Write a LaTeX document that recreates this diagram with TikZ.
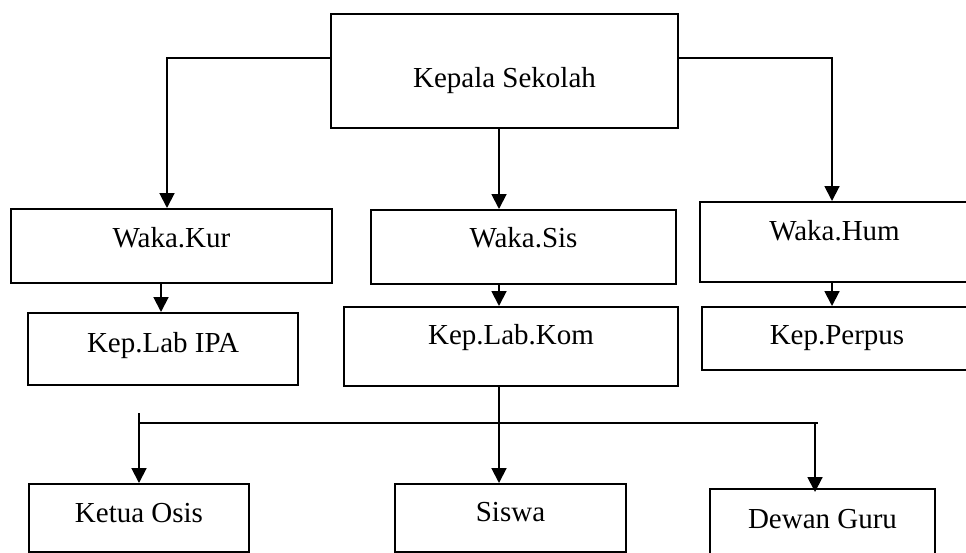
\documentclass[tikz,border=0pt]{standalone}
\usepackage{fontspec}
\setmainfont{Liberation Serif}
\usetikzlibrary{arrows.meta}
\tikzset{
  jabatan/.style={draw,line width=1.1pt,inner sep=0pt,anchor=north,
    font=\fontsize{16.5}{19}\selectfont,text height=0.78cm},
  panah/.style={line width=1.1pt,-{Triangle[width=8.5pt,length=8.5pt]}},
  garis/.style={line width=1.1pt}
}

\begin{document}
\begin{tikzpicture}[x=0.02cm,y=-0.02cm]
    \useasboundingbox (0,0) rectangle (966,552);

    \node[jabatan,minimum width=6.94cm,text height=1.48cm,text depth=0.80cm] (kepala) at (504.5,13) {Kepala Sekolah};
    \node[jabatan,minimum width=6.42cm,text depth=0.70cm] (kur) at (171.5,208) {Waka.Kur};
    \node[jabatan,minimum width=6.10cm,text height=0.76cm,text depth=0.72cm] (sis) at (523.5,209) {Waka.Sis};
    \node[jabatan,minimum width=5.38cm,text depth=0.82cm] (hum) at (834.5,201) {Waka.Hum};
    \node[jabatan,minimum width=5.40cm,text height=0.80cm,text depth=0.64cm] (ipa) at (163,312) {Kep.Lab IPA};
    \node[jabatan,minimum width=6.68cm,text height=0.76cm,text depth=0.82cm] (kom) at (511,306) {Kep.Lab.Kom};
    \node[jabatan,minimum width=5.40cm,text height=0.76cm,text depth=0.50cm] (perpus) at (837,306) {Kep.Perpus};
    \node[jabatan,minimum width=4.40cm,text depth=0.58cm] (osis) at (139,483) {Ketua Osis};
    \node[jabatan,minimum width=4.62cm,text height=0.76cm,text depth=0.60cm] (siswa) at (510.5,483) {Siswa};
    \node[jabatan,minimum width=4.50cm,text height=0.80cm,text depth=0.74cm] (guru) at (822.5,488) {Dewan Guru};

    \coordinate (cabang) at (139,413);
    \coordinate (kiri) at (139,423);
    \coordinate (kanan) at (818,423);

    \draw[panah] (kepala.west |- 0,58) -| (167,0 |- kur.north);
    \draw[panah] (kepala.east |- 0,58) -| (832,0 |- hum.north);
    \draw[panah] (499,0 |- kepala.south) -- (499,0 |- sis.north);
    \draw[panah] (161,0 |- kur.south) -- (161,0 |- ipa.north);
    \draw[panah] (499,0 |- sis.south) -- (499,0 |- kom.north);
    \draw[panah] (832,0 |- hum.south) -- (832,0 |- perpus.north);
    \draw[panah] (499,0 |- kom.south) -- (499,0 |- siswa.north);
    \draw[garis] (kiri) -- (kanan);
    \draw[panah] (cabang) -- (osis.north);
    \draw[panah] (815,0 |- kanan) -- (815,492);
  \end{tikzpicture}
\end{document}
